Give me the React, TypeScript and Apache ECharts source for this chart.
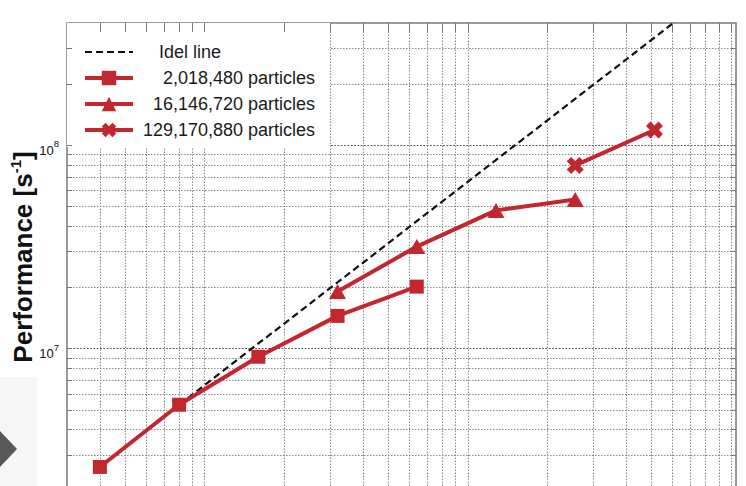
import React, { useEffect, useRef } from "react";
import * as echarts from "echarts";

// ---- data ----
const seriesNames = ["Idel line", "2,018,480 particles", "16,146,720 particles", "129,170,880 particles"];
const nodes2M = [4, 8, 16, 32, 64];
const perf2M = [2.62e6, 5.3e6, 9.13e6, 1.45e7, 2.02e7];
const nodes16M = [32, 64, 128, 256];
const perf16M = [1.91e7, 3.18e7, 4.79e7, 5.42e7];
const nodes129M = [256, 512];
const perf129M = [7.97e7, 1.19e8];
const idealX = [8, 1024];
const idealY = [5.3e6, 6.78e8];

// ---- axis / grid values ----
const X_MIN = 3;
const X_MAX = 1045;
const Y_MIN = 1e6;
const Y_MAX = 4e8;
const gridX = [4, 5, 6, 7, 8, 9, 10, 20, 30, 40, 50, 60, 70, 80, 90, 100, 200, 300, 400, 500, 600, 700, 800, 900, 1000];
const gridY = [2e6, 3e6, 4e6, 5e6, 6e6, 7e6, 8e6, 9e6, 1e7, 2e7, 3e7, 4e7, 5e7, 6e7, 7e7, 8e7, 9e7, 1e8, 2e8, 3e8];
const majorY = [1e6, 1e7, 1e8];
const labeledY = [1e7, 1e8];

const RED = "#c1272d";
const FONT = "'Liberation Sans', Arial, Helvetica, sans-serif";
const CROSS = "path://M2.6,0 L5,2.4 L7.4,0 L10,2.6 L7.6,5 L10,7.4 L7.4,10 L5,7.6 L2.6,10 L0,7.4 L2.4,5 L0,2.6 Z";

function pairs(xs: number[], ys: number[]) {
  return xs.map((x, i) => [x, ys[i]]);
}

export default function App() {
  const ref = useRef<HTMLDivElement>(null);

  useEffect(() => {
    if (!ref.current) return;
    const chart = echarts.init(ref.current, undefined, { renderer: "svg" });

    const minorStyle = { color: "#8a8a8a", width: 1, type: [1.5, 1.5] as any };
    const majorStyle = { color: "#555", width: 1.2, type: [1.8, 1.5] as any };

    const gridLines: any[] = [];
    gridX.forEach((v) => gridLines.push({ xAxis: v, lineStyle: minorStyle }));
    gridY.forEach((v) =>
      gridLines.push({ yAxis: v, lineStyle: majorY.includes(v) ? majorStyle : minorStyle })
    );

    // small inside ticks on the frame (top, left, right)
    const tickStyle = { color: "#777", width: 1, type: "solid" as any };
    const ticks: any[] = [];
    gridX.forEach((v) => ticks.push([{ coord: [v, Y_MAX] }, { coord: [v, Y_MAX * 0.905] }]));
    gridY.forEach((v) => {
      ticks.push([{ coord: [X_MIN, v] }, { coord: [X_MIN * 1.045, v] }]);
      ticks.push([{ coord: [X_MAX, v] }, { coord: [X_MAX / 1.045, v] }]);
    });

    const legendText = { fontSize: 18, fontFamily: FONT, color: "#1a1a1a", lineHeight: 20 };

    const option: any = {
      animation: false,
      backgroundColor: "#ffffff",
      textStyle: { fontFamily: FONT },
      grid: {
        left: 67,
        right: 10,
        top: 23,
        bottom: 8,
        show: true,
        borderColor: "#7a7a7a",
        borderWidth: 1.5,
        backgroundColor: "transparent",
        containLabel: false,
        outerBoundsMode: "none",
      },
      xAxis: {
        type: "log",
        logBase: 10,
        min: X_MIN,
        max: X_MAX,
        axisLine: { show: false },
        axisTick: { show: false },
        axisLabel: { show: false },
        splitLine: { show: false },
        minorTick: { show: false },
        minorSplitLine: { show: false },
      },
      yAxis: {
        type: "log",
        logBase: 10,
        min: Y_MIN,
        max: Y_MAX,
        name: "{a|Performance [s}{s|-1}{a|]}",
        nameLocation: "middle",
        nameRotate: 90,
        nameGap: 29,
        nameMoveOverlap: false,
        nameTextStyle: {
          color: "#111",
          padding: [0, 0, 0, 61],
          rich: {
            a: { fontSize: 26, fontWeight: "bold", fontFamily: FONT, color: "#111", lineHeight: 30 },
            s: { fontSize: 15, fontWeight: "bold", fontFamily: FONT, color: "#111", lineHeight: 18, verticalAlign: "top" },
          },
        },
        axisLine: { show: false },
        axisTick: { show: false },
        splitLine: { show: false },
        minorTick: { show: false },
        minorSplitLine: { show: false },
        axisLabel: {
          show: true,
          margin: 8,
          color: "#111",
          fontSize: 13,
          formatter: (v: number) => {
            const e = Math.round(Math.log10(v));
            const p = Math.pow(10, e);
            if (Math.abs(v - p) > 1e-6 * v) return "";
            if (!labeledY.includes(p)) return "";
            return `{b|10}{s|${e}}`;
          },
          rich: {
            b: { fontSize: 13, fontFamily: FONT, color: "#111", lineHeight: 17, padding: [10, 0, 0, 0] },
            s: { fontSize: 9.5, fontFamily: FONT, color: "#111", lineHeight: 10, padding: [8, 0, 11, 0] },
          },
        },
      },
      legend: {
        show: true,
        left: 67,
        top: 23,
        orient: "vertical",
        selectedMode: false,
        backgroundColor: "#ffffff",
        borderWidth: 0,
        padding: [19, 15, 7, 16],
        itemWidth: 48,
        itemHeight: 18,
        itemGap: 6,
        z: 4,
        lineStyle: { width: 4 },
        data: [
          { name: seriesNames[0], itemStyle: { color: "rgba(0,0,0,0)", borderWidth: 0 }, lineStyle: { width: 2.2 } },
          { name: seriesNames[1] },
          { name: seriesNames[2] },
          { name: seriesNames[3] },
        ],
        formatter: (name: string) => (name === seriesNames[0] ? `{l|${name}}` : `{r|${name}}`),
        textStyle: {
          ...legendText,
          rich: {
            l: { ...legendText, width: 156, padding: [0, 0, 0, 21] },
            r: { ...legendText, width: 177, align: "right" },
          },
        },
      },
      graphic: [
        { type: "rect", shape: { x: 0, y: 377, width: 37, height: 120 }, style: { fill: "#f6f6f6" }, z: 0, silent: true },
        {
          type: "polygon",
          shape: { points: [[0, 431], [17, 449], [0, 467]] },
          style: { fill: "#585858" },
          z: 10,
          silent: true,
        },
      ],
      series: [
        {
          name: seriesNames[0],
          type: "line",
          data: pairs(idealX, idealY),
          symbol: "none",
          clip: true,
          z: 2,
          lineStyle: { color: "#111", width: 2.2, type: [7, 4] },
          itemStyle: { color: "rgba(0,0,0,0)" },
          markLine: {
            silent: true,
            z: 1,
            symbol: ["none", "none"],
            label: { show: false },
            emphasis: { disabled: true },
            data: gridLines,
          },
        },
        {
          name: seriesNames[1],
          type: "line",
          data: pairs(nodes2M, perf2M),
          symbol: "rect",
          symbolSize: 14,
          clip: true,
          z: 3,
          lineStyle: { color: RED, width: 4 },
          itemStyle: { color: RED },
          markLine: {
            silent: true,
            z: 6,
            symbol: ["none", "none"],
            label: { show: false },
            emphasis: { disabled: true },
            lineStyle: tickStyle,
            data: ticks,
          },
        },
        {
          name: seriesNames[2],
          type: "line",
          data: pairs(nodes16M, perf16M),
          symbol: "triangle",
          symbolSize: [17, 15],
          clip: true,
          z: 3,
          lineStyle: { color: RED, width: 4 },
          itemStyle: { color: RED },
        },
        {
          name: seriesNames[3],
          type: "line",
          data: pairs(nodes129M, perf129M),
          symbol: CROSS,
          symbolSize: 17,
          clip: true,
          z: 3,
          lineStyle: { color: RED, width: 4 },
          itemStyle: { color: RED },
        },
      ],
    };

    chart.setOption(option);
    return () => chart.dispose();
  }, []);

  return (
    <div style={{ position: "absolute", left: 0, top: 0, width: 746, height: 486, overflow: "hidden", background: "#fff" }}>
      <div ref={ref} style={{ width: 746, height: 560 }} />
    </div>
  );
}
